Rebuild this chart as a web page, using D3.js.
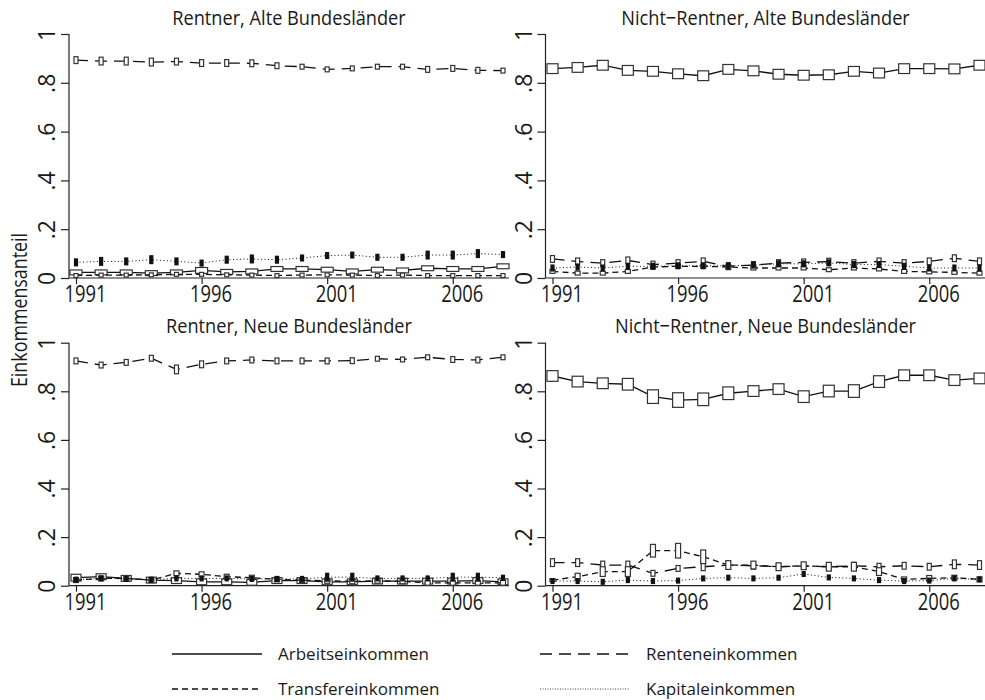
<!DOCTYPE html>
<html>
<head>
<meta charset="utf-8">
<script src="https://cdn.jsdelivr.net/npm/d3@7"></script>
<style>
  body { margin: 0; background: #fff; }
  svg text { font-family: "Open Sans", sans-serif; fill: #1a1a1a; }
</style>
</head>
<body>
<div id="chart"></div>
<script>
// Categories and labels
const years = [1991, 1992, 1993, 1994, 1995, 1996, 1997, 1998, 1999, 2000,
               2001, 2002, 2003, 2004, 2005, 2006, 2007, 2008];
const tickYears = [1991, 1996, 2001, 2006];
const yTicks = [0, 0.2, 0.4, 0.6, 0.8, 1];
const seriesNames = ["Arbeitseinkommen", "Renteneinkommen", "Transfereinkommen", "Kapitaleinkommen"];
const panelTitles = ["Rentner, Alte Bundesländer", "Nicht\u2212Rentner, Alte Bundesländer",
                     "Rentner, Neue Bundesländer", "Nicht\u2212Rentner, Neue Bundesländer"];
const yTitle = "Einkommensanteil";

// Rentner, Alte Bundeslaender: shares and half-height of the marker box
const rentAltArbeit   = [.023,.023,.023,.020,.023,.031,.025,.027,.037,.037,.034,.027,.034,.031,.040,.037,.037,.048];
const rentAltRente    = [.893,.889,.889,.885,.887,.881,.881,.880,.870,.866,.855,.859,.866,.866,.855,.859,.851,.850];
const rentAltTransfer = [.010,.012,.012,.013,.015,.015,.013,.012,.010,.012,.013,.012,.010,.012,.010,.010,.010,.010];
const rentAltKapital  = [.064,.068,.068,.075,.068,.061,.075,.078,.075,.082,.092,.094,.085,.085,.094,.094,.100,.096];
const rentAltArbeitSe   = [.010,.010,.010,.010,.010,.012,.010,.010,.010,.010,.010,.010,.010,.010,.010,.010,.010,.010];
const rentAltRenteSe    = [.014,.016,.016,.016,.014,.014,.014,.014,.012,.010,.010,.010,.010,.010,.012,.012,.012,.010];
const rentAltTransferSe = [.008,.008,.008,.008,.008,.008,.008,.008,.008,.008,.008,.008,.008,.008,.008,.008,.008,.008];
const rentAltKapitalSe  = [.014,.016,.014,.016,.014,.012,.014,.016,.014,.012,.012,.012,.012,.012,.016,.016,.016,.012];

// Nicht-Rentner, Alte Bundeslaender
const nichtAltArbeit   = [.858,.863,.872,.851,.847,.837,.829,.855,.849,.835,.831,.833,.847,.840,.858,.858,.857,.872];
const nichtAltRente    = [.078,.068,.061,.072,.055,.061,.068,.048,.053,.061,.064,.067,.061,.068,.061,.068,.081,.068];
const nichtAltTransfer = [.027,.020,.020,.027,.045,.048,.048,.045,.041,.041,.041,.034,.041,.037,.027,.025,.023,.020];
const nichtAltKapital  = [.041,.045,.041,.048,.048,.050,.050,.050,.053,.058,.058,.062,.055,.055,.048,.041,.041,.041];
const nichtAltArbeitSe   = [.020,.020,.020,.020,.020,.020,.020,.020,.020,.020,.020,.020,.020,.020,.020,.020,.020,.020];
const nichtAltRenteSe    = [.014,.014,.014,.014,.014,.014,.014,.014,.014,.014,.014,.014,.014,.014,.014,.014,.014,.014];
const nichtAltTransferSe = [.008,.008,.008,.008,.008,.008,.008,.008,.008,.008,.008,.008,.008,.008,.008,.008,.008,.008];
const nichtAltKapitalSe  = [.012,.012,.012,.012,.012,.012,.012,.012,.012,.012,.012,.012,.012,.012,.012,.012,.012,.012];

// Rentner, Neue Bundeslaender
const rentNeuArbeit   = [.033,.037,.030,.023,.021,.016,.016,.014,.021,.021,.016,.016,.019,.019,.019,.019,.021,.016];
const rentNeuRente    = [.925,.908,.919,.936,.890,.911,.925,.929,.925,.925,.925,.926,.934,.931,.940,.931,.929,.940];
const rentNeuTransfer = [.023,.030,.030,.023,.051,.047,.037,.033,.026,.023,.020,.018,.020,.018,.012,.012,.012,.012];
const rentNeuKapital  = [.025,.030,.028,.025,.030,.030,.030,.028,.028,.028,.035,.035,.030,.030,.030,.035,.035,.033];
const rentNeuArbeitSe   = [.014,.012,.012,.012,.012,.012,.012,.012,.012,.012,.012,.012,.012,.012,.012,.012,.012,.012];
const rentNeuRenteSe    = [.012,.012,.012,.012,.018,.014,.012,.012,.012,.012,.012,.012,.010,.010,.010,.012,.012,.010];
const rentNeuTransferSe = [.010,.010,.010,.010,.010,.010,.010,.010,.010,.010,.010,.010,.010,.010,.010,.010,.010,.010];
const rentNeuKapitalSe  = [.010,.010,.010,.010,.010,.010,.010,.010,.010,.010,.016,.016,.010,.010,.010,.016,.016,.010];

// Nicht-Rentner, Neue Bundeslaender
const nichtNeuArbeit   = [.863,.840,.833,.829,.778,.764,.767,.792,.801,.809,.778,.801,.801,.840,.866,.866,.846,.853];
const nichtNeuRente    = [.095,.095,.085,.085,.051,.071,.078,.085,.082,.078,.081,.078,.082,.078,.082,.078,.088,.085];
const nichtNeuTransfer = [.023,.037,.058,.058,.144,.144,.119,.085,.085,.078,.082,.078,.078,.058,.026,.030,.033,.026];
const nichtNeuKapital  = [.019,.019,.016,.023,.019,.021,.030,.033,.030,.033,.048,.034,.030,.023,.019,.021,.030,.026];
const nichtNeuArbeitSe   = [.022,.022,.022,.024,.028,.030,.026,.026,.022,.022,.024,.024,.026,.024,.022,.022,.022,.022];
const nichtNeuRenteSe    = [.016,.016,.016,.016,.012,.012,.016,.016,.014,.014,.014,.014,.014,.014,.014,.014,.018,.018];
const nichtNeuTransferSe = [.006,.014,.020,.020,.026,.030,.028,.018,.016,.016,.016,.018,.018,.016,.010,.012,.010,.010];
const nichtNeuKapitalSe  = [.010,.010,.010,.010,.010,.010,.010,.010,.010,.010,.010,.010,.010,.010,.010,.010,.010,.010];

const panels = [
  { title: panelTitles[0],
    values: [rentAltArbeit, rentAltRente, rentAltTransfer, rentAltKapital],
    se: [rentAltArbeitSe, rentAltRenteSe, rentAltTransferSe, rentAltKapitalSe] },
  { title: panelTitles[1],
    values: [nichtAltArbeit, nichtAltRente, nichtAltTransfer, nichtAltKapital],
    se: [nichtAltArbeitSe, nichtAltRenteSe, nichtAltTransferSe, nichtAltKapitalSe] },
  { title: panelTitles[2],
    values: [rentNeuArbeit, rentNeuRente, rentNeuTransfer, rentNeuKapital],
    se: [rentNeuArbeitSe, rentNeuRenteSe, rentNeuTransferSe, rentNeuKapitalSe] },
  { title: panelTitles[3],
    values: [nichtNeuArbeit, nichtNeuRente, nichtNeuTransfer, nichtNeuKapital],
    se: [nichtNeuArbeitSe, nichtNeuRenteSe, nichtNeuTransferSe, nichtNeuKapitalSe] }
];

// Layout and styles
const width = 985;
const height = 700;
const frames = [
  { left: 69,    top: 34,    bottom: 278 },
  { left: 545.5, top: 34,    bottom: 278 },
  { left: 69,    top: 342.7, bottom: 585.7 },
  { left: 545.5, top: 342.7, bottom: 585.7 }
];
const frameWidth = 440;
const lineStyles = [
  { dash: null,    w: 1.3 },
  { dash: "12,7",  w: 1.3 },
  { dash: "6,4",   w: 1.3 },
  { dash: "1,2.5", w: 1.0 }
];
// marker box widths in px, per panel and series
const boxWidths = [[12, 4, 4, 3], [11, 4, 5, 3], [10, 4, 5, 3], [11, 4, 5, 3]];

const svg = d3.select("#chart").append("svg")
    .attr("width", width)
    .attr("height", height);

const yFormat = d => d === 0 ? "0" : d === 1 ? "1" : d3.format(".1f")(d).replace(/^0/, "");

panels.forEach((panel, i) => {
  const f = frames[i];
  const x = d3.scaleLinear().domain([1991, 2008]).range([f.left + 7, f.left + 434]);
  const y = d3.scaleLinear().domain([0, 1]).range([f.bottom, f.top]);
  const g = svg.append("g");

  // Title
  g.append("text")
      .attr("text-anchor", "middle")
      .attr("transform", `translate(${f.left + 220},${f.top - 9.5}) scale(0.91,1)`)
      .style("font-size", "20px")
      .text(panel.title);

  // Axis lines
  g.append("line")
      .attr("x1", f.left).attr("x2", f.left)
      .attr("y1", f.top).attr("y2", f.bottom)
      .attr("stroke", "#222").attr("stroke-width", 1.2);
  g.append("line")
      .attr("x1", f.left).attr("x2", f.left + frameWidth)
      .attr("y1", f.bottom).attr("y2", f.bottom)
      .attr("stroke", "#222").attr("stroke-width", 1.2);

  // Y axis
  const gY = g.append("g")
      .attr("transform", `translate(${f.left},0)`)
      .call(d3.axisLeft(y).tickValues(yTicks).tickSize(8).tickSizeOuter(0).tickFormat(yFormat));
  gY.select(".domain").remove();
  gY.selectAll("line").attr("stroke", "#222").attr("stroke-width", 1.2);
  gY.selectAll("text")
      .attr("x", null).attr("dy", null)
      .attr("text-anchor", "middle")
      .attr("transform", "translate(-14,0) rotate(-90)")
      .style("font-size", "23px")
      .style("font-family", "'Open Sans', sans-serif")
      .attr("fill", "#1a1a1a");

  // X axis
  const gX = g.append("g")
      .attr("transform", `translate(0,${f.bottom})`)
      .call(d3.axisBottom(x).tickValues(tickYears).tickSize(6).tickSizeOuter(0).tickFormat(d3.format("d")));
  gX.select(".domain").remove();
  gX.selectAll("line").attr("stroke", "#222").attr("stroke-width", 1.2);
  gX.selectAll("text")
      .attr("y", null).attr("dy", null)
      .attr("text-anchor", "middle")
      .attr("transform", "translate(9,24) scale(0.8,1)")
      .style("font-size", "23px")
      .style("font-family", "'Open Sans', sans-serif")
      .attr("fill", "#1a1a1a");

  // Series: line first, then its boxes
  panel.values.forEach((vals, s) => {
    const pts = years.map((yr, k) => ({ yr: yr, v: vals[k], se: panel.se[s][k] }));
    const st = lineStyles[s];
    g.append("path")
        .datum(pts)
        .attr("fill", "none")
        .attr("stroke", "#111")
        .attr("stroke-width", st.w)
        .attr("stroke-dasharray", st.dash)
        .attr("d", d3.line().x(d => x(d.yr)).y(d => y(d.v)));

    const bw = boxWidths[i][s];
    g.selectAll(null)
        .data(pts)
        .enter()
        .append("rect")
        .attr("x", d => x(d.yr) - bw / 2)
        .attr("y", d => y(d.v + d.se))
        .attr("width", bw)
        .attr("height", d => y(d.v - d.se) - y(d.v + d.se))
        .attr("fill", s === 3 ? "#111" : "#fff")
        .attr("stroke", s === 3 ? "#111" : "#333")
        .attr("stroke-width", 1.2);
  });
});

// Y axis title
svg.append("text")
    .attr("text-anchor", "middle")
    .attr("transform", "translate(27,310) rotate(-90) scale(0.85,1)")
    .style("font-size", "21px")
    .text(yTitle);

// Legend
const legendPos = [
  { x: 172, y: 654 }, { x: 540, y: 654 },
  { x: 172, y: 689 }, { x: 540, y: 689 }
];
const legendDash = [null, "12,7", "6,4", "1,1.5"];
seriesNames.forEach((name, s) => {
  const p = legendPos[s];
  svg.append("line")
      .attr("x1", p.x).attr("x2", p.x + 90)
      .attr("y1", p.y).attr("y2", p.y)
      .attr("stroke", "#111")
      .attr("stroke-width", s === 3 ? 0.8 : 1.3)
      .attr("stroke-dasharray", legendDash[s]);
  svg.append("text")
      .attr("transform", `translate(${p.x + 106},${p.y + 5.5}) scale(1,1)`)
      .style("font-size", "17px")
      .text(name);
});
</script>
</body>
</html>
